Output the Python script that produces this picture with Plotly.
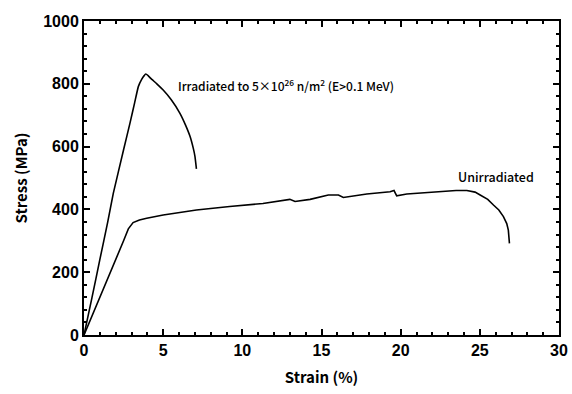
import plotly.graph_objects as go

# Irradiated curve (strain %, stress MPa)
irr_strain = [0, 0.5, 1.0, 1.5, 1.85, 2.5, 2.9, 3.2, 3.43, 3.65, 3.8, 3.9, 4.05, 4.2, 4.6, 5.0, 5.5, 6.06, 6.4, 6.7, 6.9, 7.01, 7.1]
irr_stress = [0, 118, 240, 360, 451, 590, 674, 740, 791, 815, 826, 831, 826, 818, 800, 780, 750, 706, 670, 632, 595, 568, 529]

# Unirradiated curve
unirr_strain = [0, 1.0, 2.0, 2.5, 2.8, 3.1, 3.5, 3.96, 5.0, 7.1, 9.2, 10.5, 11.3, 13.0, 13.33, 14.28, 15.43, 16.07, 16.38,
                17.86, 19.33, 19.58, 19.75, 20.39, 22.24, 23.5, 24.18, 24.7, 25.02, 25.5, 25.86, 26.2, 26.49, 26.7, 26.8, 26.87]
unirr_stress = [0, 118, 238, 300, 338, 358, 366, 372, 382, 398, 409, 416, 419, 432, 425, 432, 446, 446, 438,
                449, 456, 460, 443, 449, 456, 460, 460, 455, 446, 432, 414, 398, 377, 355, 334, 292]

x_ticks = [0, 5, 10, 15, 20, 25, 30]
y_ticks = [0, 200, 400, 600, 800, 1000]

fig = go.Figure()
fig.add_trace(go.Scatter(x=irr_strain, y=irr_stress, mode="lines",
                         line=dict(color="black", width=1.6, shape="spline", smoothing=0.3), showlegend=False))
fig.add_trace(go.Scatter(x=unirr_strain, y=unirr_stress, mode="lines",
                         line=dict(color="black", width=1.6), showlegend=False))

tickfont = dict(family="Liberation Sans, Arial, sans-serif", size=16, color="black", weight="bold")
titlefont = dict(family="Noto Sans CJK JP, sans-serif", size=15, color="black", weight="bold")

fig.update_xaxes(range=[0, 30], tickvals=x_ticks, ticks="inside", ticklen=6, tickwidth=2, tickcolor="black",
                 showline=True, linewidth=2, linecolor="black", mirror="ticks", showgrid=False, zeroline=False,
                 automargin=False,
                 tickfont=tickfont, title=dict(text="Strain (%)", font=titlefont, standoff=14),
                 minor=dict(dtick=1, ticks="inside", ticklen=3, tickwidth=1.5, tickcolor="black"))
fig.update_yaxes(range=[0, 1000], tickvals=y_ticks, ticks="inside", ticklen=6, tickwidth=2, tickcolor="black",
                 showline=True, linewidth=2, linecolor="black", mirror="ticks", showgrid=False, zeroline=False,
                 automargin=False,
                 tickfont=tickfont, title=dict(text="Stress (MPa)", font=titlefont, standoff=12),
                 minor=dict(dtick=40, ticks="inside", ticklen=3, tickwidth=1.5, tickcolor="black"))

annfont = dict(family="Noto Sans CJK JP, sans-serif", size=12, color="black", weight=500)
annfont2 = dict(family="Noto Sans CJK JP, sans-serif", size=12.5, color="black", weight=500)
fig.add_annotation(x=5.8, y=795, xref="x", yref="y", xanchor="left", yanchor="middle", showarrow=False,
                   text="Irradiated to 5\u00d710<sup>26</sup> n/m<sup>2</sup> (E>0.1 MeV)", font=annfont)
fig.add_annotation(x=23.5, y=505, xref="x", yref="y", xanchor="left", yanchor="middle", showarrow=False,
                   text="Unirradiated", font=annfont2)

fig.update_layout(width=572, height=394, margin=dict(l=84, r=13, t=21, b=59),
                  plot_bgcolor="white", paper_bgcolor="white")
fig.write_html("out.html")
